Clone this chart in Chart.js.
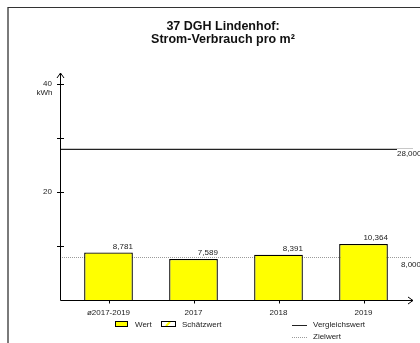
<!DOCTYPE html>
<html>
<head>
<meta charset="utf-8">
<script src="https://cdn.jsdelivr.net/npm/chart.js@4"></script>
<style>
  html, body { margin: 0; padding: 0; background: #fff; }
  canvas { display: block; }
</style>
</head>
<body>
<canvas id="chart" width="420" height="343"></canvas>
<script>
const categories = ["ø2017-2019", "2017", "2018", "2019"];
const wertValues = [8.781, 7.589, 8.391, 10.364];
const vergleichswert = 28;
const zielwert = 8;
const yTickValues = [10, 20, 30, 40];
const yTickLabels = { 20: "20", 40: "40" };
const yUnit = "kWh";
const titleLines = ["37 DGH Lindenhof:", "Strom-Verbrauch pro m²"];

const FONT = "'Liberation Sans', Arial, sans-serif";
const YELLOW = "#ffff00";

const fmt = (v) => v.toFixed(3).replace(".", ",");

// axes with arrows, reference lines, value labels, legend and frame
const drawingPlugin = {
  id: "drawing",
  beforeDraw(chart) {
    const { ctx } = chart;
    ctx.save();
    ctx.fillStyle = "#fff";
    ctx.fillRect(0, 0, chart.width, chart.height);
    ctx.fillStyle = "#7a7a7a";
    ctx.fillRect(7, 7, 2, chart.height - 7);
    ctx.fillStyle = "#333";
    ctx.fillRect(8, 7, chart.width - 8, 1);
    ctx.restore();
  },
  beforeDatasetsDraw(chart) {
    const { ctx, chartArea, scales } = chart;
    const axisX = chartArea.left - 6;
    ctx.save();
    // Zielwert (dotted)
    const yZ = Math.round(scales.y.getPixelForValue(zielwert)) + 0.5;
    ctx.strokeStyle = "#9a9a9a";
    ctx.lineWidth = 1;
    ctx.setLineDash([1, 1]);
    ctx.beginPath();
    ctx.moveTo(axisX, yZ);
    ctx.lineTo(chartArea.right + 6, yZ);
    ctx.stroke();
    ctx.setLineDash([]);
    // Vergleichswert (solid)
    const yV = Math.round(scales.y.getPixelForValue(vergleichswert)) + 0.5;
    ctx.strokeStyle = "#c8c8c8";
    ctx.beginPath();
    ctx.moveTo(axisX, yV - 1);
    ctx.lineTo(chartArea.right + 7, yV - 1);
    ctx.stroke();
    ctx.strokeStyle = "#222";
    ctx.beginPath();
    ctx.moveTo(axisX, yV);
    ctx.lineTo(chartArea.right - 9, yV);
    ctx.stroke();

    ctx.fillStyle = "#222";
    ctx.font = "8px " + FONT;
    ctx.textAlign = "left";
    ctx.textBaseline = "middle";
    ctx.fillText(fmt(vergleichswert), chartArea.right - 9, yV + 4);
    ctx.fillText(fmt(zielwert), chartArea.right - 5, yZ + 7);
    ctx.restore();
  },
  afterDatasetsDraw(chart) {
    const { ctx, chartArea, scales } = chart;
    const axisX = chartArea.left - 6 + 0.5;
    const axisY = Math.round(scales.y.getPixelForValue(0)) + 0.5;
    const topY = chartArea.top;
    const rightX = chartArea.right + 7;
    ctx.save();
    ctx.strokeStyle = "#000";
    ctx.lineWidth = 1;
    ctx.beginPath();
    // y axis with arrow
    ctx.moveTo(axisX, axisY);
    ctx.lineTo(axisX, topY);
    ctx.moveTo(axisX - 3.5, topY + 5);
    ctx.lineTo(axisX, topY);
    ctx.lineTo(axisX + 3.5, topY + 5);
    // x axis with arrow
    ctx.moveTo(axisX, axisY);
    ctx.lineTo(rightX, axisY);
    ctx.moveTo(rightX - 5, axisY - 3.5);
    ctx.lineTo(rightX, axisY);
    ctx.lineTo(rightX - 5, axisY + 3.5);
    ctx.stroke();

    // y ticks crossing the axis
    ctx.beginPath();
    yTickValues.forEach((v) => {
      const y = Math.round(scales.y.getPixelForValue(v)) + 0.5;
      ctx.moveTo(axisX - 3.5, y);
      ctx.lineTo(axisX + 3.5, y);
    });
    // x ticks under bar centres
    categories.forEach((c, i) => {
      const x = Math.round(scales.x.getPixelForValue(i)) + 0.5;
      ctx.moveTo(x, axisY);
      ctx.lineTo(x, axisY + 3);
    });
    ctx.stroke();

    ctx.font = "8px " + FONT;
    ctx.fillStyle = "#222";
    // unit under the 40 label
    ctx.textAlign = "right";
    ctx.textBaseline = "middle";
    ctx.fillText(yUnit, axisX - 8, scales.y.getPixelForValue(40) + 9);

    // value labels
    const meta = chart.getDatasetMeta(0);
    meta.data.forEach((bar, i) => {
      const right = bar.x + bar.width / 2;
      ctx.textAlign = "right";
      ctx.textBaseline = "bottom";
      ctx.fillText(fmt(wertValues[i]), right, bar.y - 2);
    });

    // legend
    const ly = 324;
    ctx.textAlign = "left";
    ctx.textBaseline = "middle";
    ctx.fillStyle = YELLOW;
    ctx.fillRect(115.5, ly - 2.5, 12, 5);
    ctx.strokeStyle = "#000";
    ctx.strokeRect(115.5, ly - 2.5, 12, 5);
    ctx.fillStyle = "#222";
    ctx.fillText("Wert", 135, ly + 1);

    ctx.fillStyle = "#fff";
    ctx.fillRect(161.5, ly - 2.5, 14, 5);
    ctx.strokeStyle = YELLOW;
    ctx.lineWidth = 2;
    ctx.beginPath();
    ctx.moveTo(166, ly + 2);
    ctx.lineTo(170, ly - 2);
    ctx.stroke();
    ctx.lineWidth = 1;
    ctx.strokeStyle = "#000";
    ctx.strokeRect(161.5, ly - 2.5, 14, 5);
    ctx.fillStyle = "#222";
    ctx.fillText("Schätzwert", 182, ly + 1);

    ctx.strokeStyle = "#222";
    ctx.beginPath();
    ctx.moveTo(292, ly + 1.5);
    ctx.lineTo(307, ly + 1.5);
    ctx.stroke();
    ctx.fillText("Vergleichswert", 313, ly + 1);

    ctx.strokeStyle = "#9a9a9a";
    ctx.setLineDash([1, 1]);
    ctx.beginPath();
    ctx.moveTo(292, ly + 13.5);
    ctx.lineTo(307, ly + 13.5);
    ctx.stroke();
    ctx.setLineDash([]);
    ctx.fillText("Zielwert", 313, ly + 13);
    ctx.restore();
  },
};

new Chart(document.getElementById("chart"), {
  type: "bar",
  data: {
    labels: categories,
    datasets: [
      {
        label: "Wert",
        data: wertValues,
        backgroundColor: YELLOW,
        borderColor: "#000",
        borderWidth: 1.3,
        barPercentage: 0.573,
        categoryPercentage: 1,
      },
    ],
  },
  options: {
    responsive: false,
    animation: false,
    layout: { padding: { left: 40, right: 14, top: 0, bottom: 0 } },
    plugins: {
      legend: { display: false },
      tooltip: { enabled: false },
      title: {
        display: true,
        text: titleLines,
        color: "#111",
        font: { family: FONT, size: 12.5, weight: "bold", lineHeight: 1.02 },
        padding: { top: 20, bottom: 27.5 },
      },
    },
    scales: {
      x: {
        grid: { display: false, drawTicks: false },
        border: { display: false },
        ticks: {
          color: "#222",
          font: { family: FONT, size: 8 },
          padding: 8,
          maxRotation: 0,
        },
        afterFit: (scale) => {
          scale.height = 43;
        },
      },
      y: {
        min: 0,
        max: 42,
        grid: { display: false, drawTicks: false },
        border: { display: false },
        ticks: {
          stepSize: 10,
          color: "#222",
          font: { family: FONT, size: 8 },
          padding: 14,
          callback: (v) => yTickLabels[v] || "",
        },
        afterFit: (scale) => {
          scale.height;
          scale.width = 26;
        },
      },
    },
  },
  plugins: [drawingPlugin],
});
</script>
</body>
</html>
